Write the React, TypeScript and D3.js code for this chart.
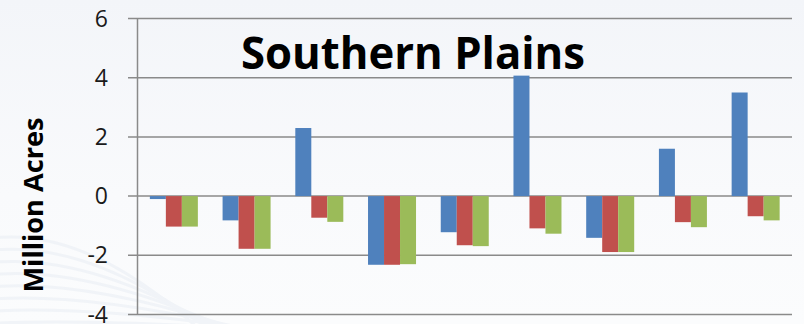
import React from "react";
import * as d3 from "d3";

const categories = ["1", "2", "3", "4", "5", "6", "7", "8", "9"];
const seriesNames = ["Series 1", "Series 2", "Series 3"];
const series1 = [-0.1, -0.82, 2.3, -2.32, -1.22, 4.07, -1.41, 1.6, 3.5];
const series2 = [-1.03, -1.78, -0.73, -2.32, -1.66, -1.09, -1.89, -0.88, -0.68];
const series3 = [-1.03, -1.78, -0.87, -2.3, -1.69, -1.27, -1.89, -1.05, -0.82];
const yTicks = [-4, -2, 0, 2, 4, 6];
const colors = ["#4F81BD", "#C0504D", "#9BBB59"];

const W = 804;
const H = 324;

export default function App() {
  const seriesValues = [series1, series2, series3];
  const x0 = 137.5;
  const x1 = 792;
  const y = d3.scaleLinear().domain([-4, 6]).range([314.5, 18.5]);
  const xGroup = d3.scaleBand<string>().domain(categories).range([x0, x1]).paddingInner(0).paddingOuter(0);
  const groupW = xGroup.bandwidth();
  const barW = 16;
  const xInner = d3
    .scaleBand<string>()
    .domain(seriesNames)
    .range([groupW / 2 - (barW * 3) / 2, groupW / 2 + (barW * 3) / 2]);

  const font = "'Open Sans', 'DejaVu Sans', sans-serif";

  return (
    <svg
      width={W}
      height={H}
      viewBox={`0 0 ${W} ${H}`}
      style={{ position: "absolute", left: 0, top: 0, display: "block" }}
    >
      <defs>
        <linearGradient id="bg" x1="0" y1="0" x2="0" y2="1">
          <stop offset="0" stopColor="#f3f5f9" />
          <stop offset="0.6" stopColor="#f9fafc" />
          <stop offset="1" stopColor="#fbfcfd" />
        </linearGradient>
      </defs>
      <rect x={0} y={0} width={W} height={H} fill="url(#bg)" />
      {/* faint decorative swirl strokes in the lower-left corner */}
      <g fill="none" stroke="#edf1f6" strokeWidth={3} opacity={0.7}>
        {d3.range(8).map((i) => (
          <path
            key={i}
            d={`M ${-20} ${240 + i * 12} Q ${80} ${220 + i * 14} ${200 + i * 10} ${330}`}
          />
        ))}
      </g>

      {/* horizontal gridlines */}
      {yTicks.map((t) => (
        <line
          key={t}
          x1={128}
          x2={x1}
          y1={y(t)}
          y2={y(t)}
          stroke="#8a8a8a"
          strokeWidth={1.5}
        />
      ))}
      {/* vertical axis */}
      <line x1={x0} x2={x0} y1={y(6)} y2={y(-4)} stroke="#8a8a8a" strokeWidth={1.5} />

      {/* tick labels */}
      {yTicks.map((t) => (
        <text
          key={t}
          x={108}
          y={y(t)}
          dy="0.35em"
          textAnchor="end"
          fontFamily={font}
          fontSize={23}
          fill="#1a1a1a"
        >
          {t}
        </text>
      ))}

      {/* bars */}
      {categories.map((c, ci) => (
        <g key={c} transform={`translate(${xGroup(c)},0)`}>
          {seriesValues.map((vals, si) => {
            const v = vals[ci];
            const top = y(Math.max(0, v));
            const h = Math.abs(y(v) - y(0));
            return (
              <rect
                key={si}
                x={xInner(seriesNames[si])}
                y={top}
                width={xInner.bandwidth()}
                height={h}
                fill={colors[si]}
              />
            );
          })}
        </g>
      ))}

      {/* title */}
      <text
        x={413}
        y={68.5}
        textAnchor="middle"
        fontFamily={font}
        fontWeight={700}
        fontSize={45}
        textLength={344}
        lengthAdjust="spacingAndGlyphs"
        fill="#000"
      >
        Southern Plains
      </text>

      {/* axis title */}
      <text
        transform={`translate(43,205) rotate(-90)`}
        textAnchor="middle"
        fontFamily={font}
        fontWeight={700}
        fontSize={26}
        textLength={175}
        lengthAdjust="spacingAndGlyphs"
        fill="#000"
      >
        Million Acres
      </text>
    </svg>
  );
}
